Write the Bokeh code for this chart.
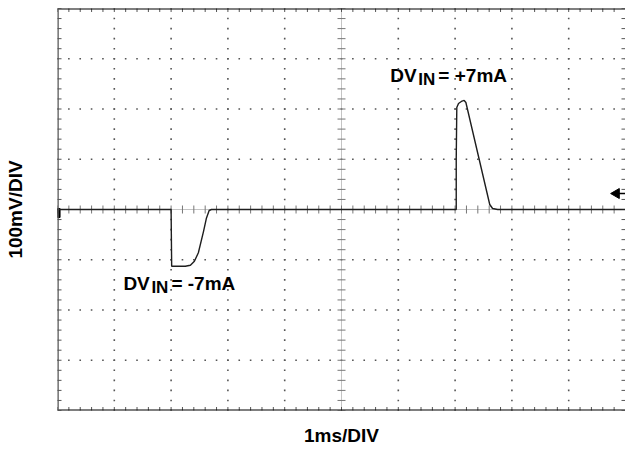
import numpy as np
from bokeh.plotting import figure
from bokeh.models import Range1d, Label, Span, FixedTicker
from bokeh.embed import file_html
from bokeh.resources import INLINE

# ---- data (ms, mV relative to the trace baseline) ----
trace_t = [0.0, 2.0, 2.01, 2.06, 2.25, 2.34, 2.41, 2.48, 2.57, 2.62, 2.67, 2.71,
           7.02, 7.02, 7.03, 7.06, 7.11, 7.16, 7.19, 7.61, 7.66, 7.75, 10.0]
trace_v = [0, 0, -113, -113, -113, -111, -103, -86, -44, -18, -2, 0,
           0, 100, 203, 211, 215, 217, 213, 10, 2, 0, 0]

x_divs = list(range(0, 11))            # 1 ms / div
y_divs = list(range(-400, 401, 100))   # 100 mV / div

x_title = "1ms/DIV"
y_title = "100mV/DIV"
label_pos = ("DV", "IN", "= +7mA", 5.86, 266.7)
label_neg = ("DV", "IN", "= -7mA", 1.16, -147.3)
ground_marker = (9.84, 31.8)

FONT = "Liberation Sans"

p = figure(width=625, height=449, output_backend="svg", toolbar_location=None,
           x_range=Range1d(0, 10), y_range=Range1d(-400, 400),
           min_border_left=57, min_border_right=0, min_border_top=8, min_border_bottom=39)
p.grid.visible = False
p.outline_line_color = None
p.background_fill_color = "white"

# axes used only for their titles
for ax, title, standoff in ((p.xaxis[0], x_title, 14), (p.yaxis[0], y_title, 32)):
    ax.ticker = FixedTicker(ticks=[])
    ax.axis_line_color = None
    ax.major_tick_line_color = None
    ax.minor_tick_line_color = None
    ax.major_label_text_font_size = "0px"
    ax.axis_label = title
    ax.axis_label_text_font = FONT
    ax.axis_label_text_font_style = "bold"
    ax.axis_label_text_font_size = "19px"
    ax.axis_label_text_color = "black"
    ax.axis_label_standoff = standoff

# ---- graticule dots ----
gx, gy = [], []
for xv in x_divs[1:-1]:
    if xv == 5:
        continue
    ys = np.arange(-400, 401, 20)
    gx += [xv] * len(ys)
    gy += list(ys)
for yv in y_divs[1:-1]:
    if yv == 0:
        continue
    xs = np.arange(0, 10.01, 0.2)
    gx += list(xs)
    gy += [yv] * len(xs)
p.scatter(gx, gy, marker="square", size=1.6, color="#555555", line_color=None)

# ---- center cross lines ----
p.line([5, 5], [-400, 400], line_color="#888888", line_width=1, line_dash="1 1")
p.line([0, 10], [0, 0], line_color="#888888", line_width=1, line_dash="1 1")
tx = np.arange(0, 10.01, 0.2)
p.scatter(tx, [0] * len(tx), marker="dash", angle=np.pi / 2, size=8, line_color="#777777", line_width=1)
ty = np.arange(-400, 401, 20)
p.scatter([5] * len(ty), ty, marker="dash", size=8, line_color="#777777", line_width=1)

# ---- border ticks ----
p.scatter(tx, [400] * len(tx), marker="dash", angle=np.pi / 2, size=7, line_color="#555555", line_width=1)
p.scatter(tx, [-400] * len(tx), marker="dash", angle=np.pi / 2, size=7, line_color="#555555", line_width=1)
p.scatter([0] * len(ty), ty, marker="dash", size=8, line_color="#555555", line_width=1)
p.scatter([10] * len(ty), ty, marker="dash", size=8, line_color="#555555", line_width=1)

# ---- borders ----
p.add_layout(Span(location=400, dimension="width", line_color="black", line_width=2))
p.add_layout(Span(location=-400, dimension="width", line_color="black", line_width=2))
p.add_layout(Span(location=0, dimension="height", line_color="#555555", line_width=2.5))
p.add_layout(Span(location=10, dimension="height", line_color="#888888", line_width=1))

# channel marker on left border
p.quad(left=[0], right=[0.045], bottom=[-16], top=[2], color="black")

# ground / trigger marker on right
p.scatter([ground_marker[0]], [ground_marker[1]], marker="triangle", angle=np.pi / 2,
          size=10, color="black")
p.line([ground_marker[0], 10], [ground_marker[1], ground_marker[1]], line_color="black", line_width=1.5)

# ---- trace ----
p.line(trace_t, trace_v, line_color="#1e1e1e", line_width=1.4)

# ---- annotations ----
for main, sub, rest, lx, ly in (label_pos, label_neg):
    p.add_layout(Label(x=lx, y=ly, text=main, text_font=FONT, text_font_style="bold",
                       text_font_size="19px", text_baseline="alphabetic", text_color="black"))
    p.add_layout(Label(x=lx, y=ly, x_offset=28, y_offset=-4, text=sub, text_font=FONT,
                       text_font_style="bold", text_font_size="17px", text_baseline="alphabetic",
                       text_color="black"))
    p.add_layout(Label(x=lx, y=ly, x_offset=48, text=rest, text_font=FONT,
                       text_font_style="bold", text_font_size="19px", text_baseline="alphabetic",
                       text_color="black"))

open("out.html", "w").write(file_html(p, INLINE))
